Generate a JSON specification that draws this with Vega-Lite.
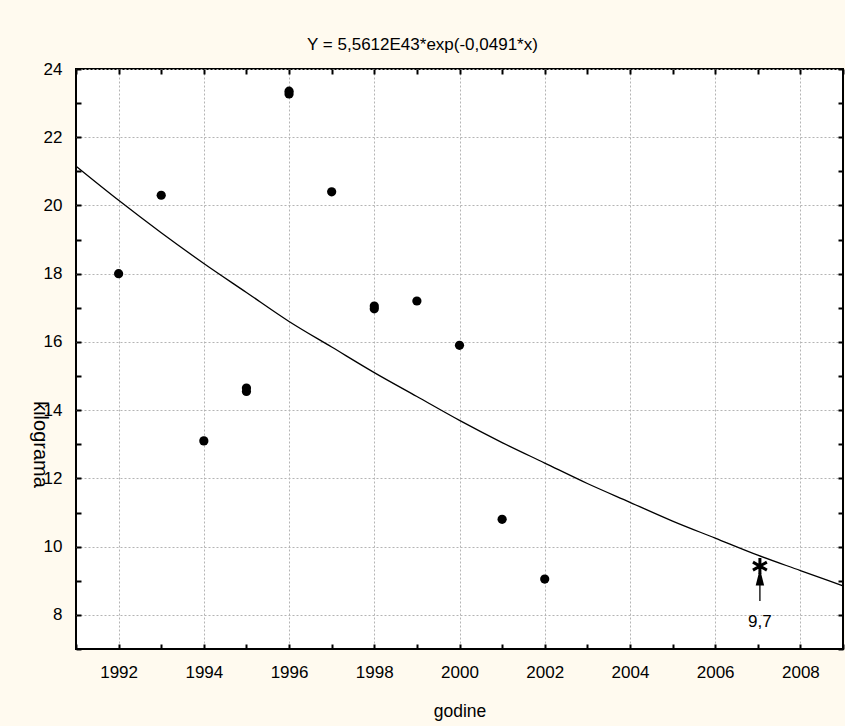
{
  "$schema": "https://vega.github.io/schema/vega-lite/v6.json",
  "width": 767,
  "height": 580,
  "autosize": {"type": "none"},
  "padding": {"left": 76, "top": 69, "right": 2, "bottom": 77},
  "background": "#fffaef",
  "title": {"text": "Y = 5,5612E43*exp(-0,0491*x)", "font": "Liberation Sans", "fontSize": 17, "fontWeight": "normal", "color": "black", "offset": 6, "dx": -37, "anchor": "middle"},
  "config": {
    "view": {"stroke": "black", "strokeWidth": 2, "fill": "white"},
    "font": "Liberation Sans",
    "axis": {"labelFont": "Liberation Sans", "titleFont": "Liberation Sans", "labelColor": "black", "titleColor": "black", "tickColor": "black", "labelFontSize": 17, "titleFontSize": 17.5, "titleFontWeight": "normal", "domain": false}
  },
  "datasets": {
    "obs": [
      {"year": 1992, "kg": 18.0},
      {"year": 1993, "kg": 20.3},
      {"year": 1994, "kg": 13.1},
      {"year": 1995, "kg": 14.55},
      {"year": 1995, "kg": 14.65},
      {"year": 1996, "kg": 23.27},
      {"year": 1996, "kg": 23.35},
      {"year": 1997, "kg": 20.4},
      {"year": 1998, "kg": 16.97},
      {"year": 1998, "kg": 17.05},
      {"year": 1999, "kg": 17.2},
      {"year": 2000, "kg": 15.9},
      {"year": 2001, "kg": 10.8},
      {"year": 2002, "kg": 9.05}
    ],
    "fit": [
      {"year": 1991, "kg": 21.15},
      {"year": 1992, "kg": 20.15},
      {"year": 1993, "kg": 19.2},
      {"year": 1994, "kg": 18.3},
      {"year": 1995, "kg": 17.45},
      {"year": 1996, "kg": 16.6},
      {"year": 1997, "kg": 15.85},
      {"year": 1998, "kg": 15.1},
      {"year": 1999, "kg": 14.4},
      {"year": 2000, "kg": 13.7},
      {"year": 2001, "kg": 13.05},
      {"year": 2002, "kg": 12.45},
      {"year": 2003, "kg": 11.85},
      {"year": 2004, "kg": 11.3},
      {"year": 2005, "kg": 10.75},
      {"year": 2006, "kg": 10.25},
      {"year": 2007, "kg": 9.75},
      {"year": 2008, "kg": 9.3},
      {"year": 2009, "kg": 8.85}
    ],
    "forecast": [
      {"year": 2007.05, "kg": 9.43, "head": 9.11, "tailTop": 8.91, "tailBottom": 8.41, "labelKg": 7.8, "label": "9,7"}
    ]
  },
  "layer": [
    {
      "data": {"name": "obs"},
      "mark": {"type": "point", "filled": true, "shape": "circle", "size": 85, "color": "black", "opacity": 1},
      "encoding": {
        "x": {"field": "year", "type": "quantitative", "scale": {"domain": [1991, 2009], "nice": false, "zero": false},
          "axis": {"values": [1991,1992,1993,1994,1995,1996,1997,1998,1999,2000,2001,2002,2003,2004,2005,2006,2007,2008,2009], "format": "d", "labelExpr": "datum.value % 2 == 0 ? datum.label : ''", "grid": true, "gridColor": "#b4b4b4", "gridDash": [2, 2], "gridWidth": 1, "gridOpacity": {"condition": {"test": "datum.value % 2 != 0", "value": 0}, "value": 1}, "tickSize": -5, "tickWidth": 2, "labelPadding": 20, "title": "godine", "titlePadding": 22, "orient": "bottom"}},
        "y": {"field": "kg", "type": "quantitative", "scale": {"domain": [7, 24], "nice": false, "zero": false},
          "axis": {"values": [7,8,9,10,11,12,13,14,15,16,17,18,19,20,21,22,23,24], "labelExpr": "datum.value % 2 == 0 ? datum.label : ''", "grid": true, "gridColor": "#b4b4b4", "gridDash": [2, 2], "gridWidth": 1, "gridOpacity": {"condition": {"test": "datum.value % 2 != 0", "value": 0}, "value": 1}, "tickSize": -5, "tickWidth": 2, "labelPadding": 19, "title": "kilograma", "titleFontSize": 20, "titleAngle": 90, "titleAlign": "center", "titleBaseline": "middle", "titleX": -37, "titleY": 375, "orient": "left"}}
      }
    },
    {
      "data": {"name": "fit"},
      "mark": {"type": "line", "color": "black", "strokeWidth": 1.3, "interpolate": "monotone"},
      "encoding": {
        "x": {"field": "year", "type": "quantitative", "scale": {"domain": [1991, 2009], "nice": false, "zero": false},
          "axis": {"orient": "top", "values": [1991,1992,1993,1994,1995,1996,1997,1998,1999,2000,2001,2002,2003,2004,2005,2006,2007,2008,2009], "labels": false, "grid": false, "title": null, "tickSize": -5, "tickWidth": 2}},
        "y": {"field": "kg", "type": "quantitative", "scale": {"domain": [7, 24], "nice": false, "zero": false},
          "axis": {"orient": "right", "values": [7,8,9,10,11,12,13,14,15,16,17,18,19,20,21,22,23,24], "labels": false, "grid": false, "title": null, "tickSize": -5, "tickWidth": 2}}
      }
    },
    {
      "data": {"name": "forecast"},
      "mark": {"type": "rule", "color": "black", "strokeWidth": 1.3},
      "encoding": {
        "x": {"field": "year", "type": "quantitative", "axis": null},
        "y": {"field": "tailBottom", "type": "quantitative", "axis": null},
        "y2": {"field": "tailTop"}
      }
    },
    {
      "data": {"name": "forecast"},
      "mark": {"type": "point", "filled": true, "shape": "M0,-1L-0.5,1L0.5,1Z", "size": 289, "color": "black", "opacity": 1},
      "encoding": {
        "x": {"field": "year", "type": "quantitative", "axis": null},
        "y": {"field": "head", "type": "quantitative", "axis": null}
      }
    },
    {
      "data": {"name": "forecast"},
      "mark": {"type": "point", "filled": false, "shape": "M0,-1L0,1M-0.87,-0.5L0.87,0.5M-0.87,0.5L0.87,-0.5", "size": 256, "stroke": "black", "strokeWidth": 3, "opacity": 1},
      "encoding": {
        "x": {"field": "year", "type": "quantitative", "axis": null},
        "y": {"field": "kg", "type": "quantitative", "axis": null}
      }
    },
    {
      "data": {"name": "forecast"},
      "mark": {"type": "text", "font": "Liberation Sans", "fontSize": 17, "color": "black", "align": "center", "baseline": "middle"},
      "encoding": {
        "x": {"field": "year", "type": "quantitative", "axis": null},
        "y": {"field": "labelKg", "type": "quantitative", "axis": null},
        "text": {"field": "label"}
      }
    }
  ],
  "resolve": {"axis": {"x": "independent", "y": "independent"}}
}
